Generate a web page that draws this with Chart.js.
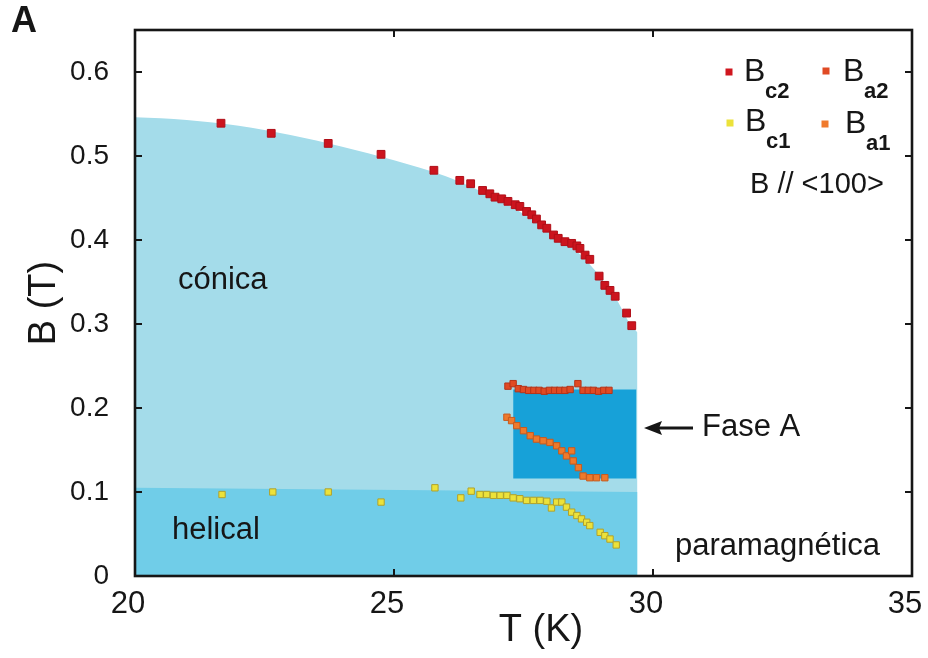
<!DOCTYPE html>
<html>
<head>
<meta charset="utf-8">
<script src="https://cdn.jsdelivr.net/npm/chart.js@4/dist/chart.umd.min.js"></script>
<style>
  html, body { margin: 0; padding: 0; background: #fff; }
</style>
</head>
<body>
<canvas id="c" width="928" height="658"></canvas>
<script>
// Axis ticks
const xTicks = [20, 25, 30, 35];
const yTicks = [0, 0.1, 0.2, 0.3, 0.4, 0.5, 0.6];

// Upper critical field Bc2 (T in K, B in T)
const bc2T = [21.66, 22.63, 23.73, 24.75, 25.77, 26.27, 26.48, 26.71, 26.85, 26.95, 27.08, 27.20, 27.34, 27.43, 27.56, 27.66, 27.75, 27.85, 27.95, 28.08, 28.17, 28.30, 28.43, 28.53, 28.59, 28.69, 28.78, 28.96, 29.07, 29.17, 29.27, 29.49, 29.59];
const bc2B = [0.539, 0.527, 0.515, 0.502, 0.483, 0.471, 0.467, 0.459, 0.455, 0.451, 0.449, 0.446, 0.442, 0.440, 0.434, 0.430, 0.425, 0.418, 0.414, 0.406, 0.402, 0.398, 0.396, 0.393, 0.390, 0.382, 0.377, 0.357, 0.346, 0.340, 0.333, 0.313, 0.298];

// A-phase upper boundary Ba2
const ba2T = [27.20, 27.30, 27.40, 27.50, 27.60, 27.70, 27.80, 27.90, 28.00, 28.10, 28.20, 28.30, 28.40, 28.55, 28.65, 28.75, 28.85, 28.95, 29.05, 29.15];
const ba2B = [0.226, 0.229, 0.223, 0.222, 0.221, 0.221, 0.221, 0.220, 0.221, 0.221, 0.221, 0.221, 0.222, 0.229, 0.221, 0.221, 0.221, 0.220, 0.221, 0.221];

// A-phase lower boundary Ba1
const ba1T = [27.18, 27.27, 27.37, 27.50, 27.63, 27.75, 27.88, 28.01, 28.14, 28.24, 28.33, 28.43, 28.46, 28.56, 28.65, 28.78, 28.91, 29.07];
const ba1B = [0.189, 0.185, 0.179, 0.173, 0.167, 0.163, 0.161, 0.159, 0.155, 0.149, 0.143, 0.149, 0.137, 0.129, 0.119, 0.117, 0.117, 0.117];

// Helical-to-conical field Bc1
const bc1T = [21.68, 22.66, 23.73, 24.75, 25.79, 26.29, 26.49, 26.66, 26.79, 26.92, 27.05, 27.18, 27.30, 27.43, 27.56, 27.69, 27.82, 27.95, 28.04, 28.14, 28.24, 28.33, 28.43, 28.53, 28.62, 28.72, 28.78, 28.98, 29.07, 29.17, 29.29];
const bc1B = [0.097, 0.100, 0.100, 0.088, 0.105, 0.093, 0.101, 0.097, 0.097, 0.096, 0.096, 0.096, 0.093, 0.092, 0.090, 0.090, 0.090, 0.089, 0.081, 0.088, 0.088, 0.082, 0.076, 0.072, 0.068, 0.064, 0.060, 0.052, 0.048, 0.044, 0.037];

// Phase regions (shaded areas)
const conicalT = [20, 21, 22, 23, 24, 25, 26, 26.5, 27, 27.5, 28, 28.5, 29, 29.3, 29.55, 29.7];
const conicalB = [0.546, 0.543, 0.536, 0.525, 0.511, 0.495, 0.476, 0.463, 0.448, 0.431, 0.409, 0.388, 0.355, 0.329, 0.301, 0.290];
const helicalT = [20, 29.7];
const helicalB = [0.105, 0.100];
const phaseAT = [27.3, 29.68];
const phaseATop = 0.222;
const phaseABottom = 0.116;

const pts = (xs, ys) => xs.map((x, i) => ({ x: x, y: ys[i] }));

const FONT = '"Liberation Sans", Arial, Helvetica, sans-serif';
const INK = '#161616';

// Frame, inward ticks, legend, x-axis title and region labels
const decor = {
  id: 'decor',
  afterDraw(chart) {
    const ctx = chart.ctx;
    const a = chart.chartArea;
    const xs = chart.scales.x, ys = chart.scales.y;
    ctx.save();
    ctx.strokeStyle = INK;
    ctx.lineWidth = 2;
    ctx.beginPath();
    xTicks.forEach(v => {
      const px = xs.getPixelForValue(v);
      ctx.moveTo(px, a.bottom); ctx.lineTo(px, a.bottom - 7);
      ctx.moveTo(px, a.top); ctx.lineTo(px, a.top + 7);
    });
    yTicks.forEach(v => {
      const py = ys.getPixelForValue(v);
      ctx.moveTo(a.left, py); ctx.lineTo(a.left + 7, py);
      ctx.moveTo(a.right, py); ctx.lineTo(a.right - 7, py);
    });
    ctx.stroke();
    ctx.lineWidth = 2.6;
    ctx.strokeRect(a.left, a.top, a.right - a.left, a.bottom - a.top);

    // legend
    const entries = [
      { mx: 729, my: 72, fill: '#d0161e', bx: 744, by: 72, sub: 'c2' },
      { mx: 826, my: 71, fill: '#e04a24', bx: 843, by: 72, sub: 'a2' },
      { mx: 730, my: 123, fill: '#ece23a', bx: 745, by: 122, sub: 'c1' },
      { mx: 825, my: 124, fill: '#f07a2c', bx: 845, by: 124, sub: 'a1' }
    ];
    ctx.textAlign = 'left';
    ctx.textBaseline = 'middle';
    entries.forEach(e => {
      ctx.fillStyle = e.fill;
      ctx.fillRect(e.mx - 3.5, e.my - 3.5, 7, 7);
      ctx.fillStyle = INK;
      ctx.font = '32px ' + FONT;
      ctx.fillText('B', e.bx, e.by);
      ctx.font = 'bold 22px ' + FONT;
      ctx.fillText(e.sub, e.bx + 21, e.by + 20);
    });
    ctx.font = '29px ' + FONT;
    ctx.fillText('B // <100>', 750, 185);

    // region labels
    ctx.font = '31px ' + FONT;
    ctx.fillText('cónica', 178, 280);
    ctx.fillText('helical', 172, 530);
    ctx.fillText('paramagnética', 675, 546);
    ctx.fillText('Fase A', 702, 427);

    // arrow pointing at the A phase
    ctx.lineWidth = 3;
    ctx.beginPath();
    ctx.moveTo(693, 428); ctx.lineTo(656, 428);
    ctx.stroke();
    ctx.fillStyle = INK;
    ctx.beginPath();
    ctx.moveTo(644, 428); ctx.lineTo(662, 421); ctx.lineTo(659, 428); ctx.lineTo(662, 435);
    ctx.closePath();
    ctx.fill();

    // x-axis title
    ctx.textAlign = 'center';
    ctx.font = '38px ' + FONT;
    ctx.fillText('T (K)', 541, 631);

    // panel letter
    ctx.textAlign = 'left';
    ctx.font = 'bold 36px ' + FONT;
    ctx.fillText('A', 11, 22);
    ctx.restore();
  }
};

const region = (data, color, fill, order, smooth) => ({
  data: data, showLine: true, fill: fill, backgroundColor: color,
  borderWidth: 0, borderColor: color, pointRadius: 0,
  cubicInterpolationMode: smooth ? 'monotone' : 'default', tension: 0, order: order
});
const marks = (data, fill, border, r) => ({
  data: data, showLine: false, pointStyle: 'rect', pointRadius: r,
  backgroundColor: fill, borderColor: border, borderWidth: 1, order: 0
});

new Chart(document.getElementById('c'), {
  type: 'scatter',
  data: {
    datasets: [
      region(pts(conicalT, conicalB), '#a4dcea', 'origin', 30, true),
      region(pts(helicalT, helicalB), '#70cde8', 'origin', 20, false),
      region(pts(phaseAT, [phaseATop, phaseATop]), '#17a1d8', { value: phaseABottom }, 10, false),
      marks(pts(bc2T, bc2B), '#cc141e', '#b00f18', 5.5),
      marks(pts(ba2T, ba2B), '#e04a24', '#b5341a', 4.5),
      marks(pts(ba1T, ba1B), '#ee7a2c', '#c85a1e', 4.5),
      marks(pts(bc1T, bc1B), '#ece23a', '#b0a22c', 4.5)
    ]
  },
  options: {
    responsive: false,
    animation: false,
    layout: { padding: { top: 30, right: 16, left: 0, bottom: 0 } },
    plugins: { legend: { display: false }, tooltip: { enabled: false } },
    scales: {
      x: {
        type: 'linear', min: 20, max: 35,
        grid: { display: false, drawTicks: false },
        border: { display: false },
        afterBuildTicks: s => { s.ticks = xTicks.map(v => ({ value: v })); },
        afterFit: s => { s.height = 82; s.paddingLeft = 0; s.paddingRight = 0; },
        ticks: { color: INK, padding: 10, labelOffset: -7, font: { family: FONT, size: 31 }, callback: v => String(v) },
        title: { display: false }
      },
      y: {
        type: 'linear', min: 0, max: 0.65,
        grid: { display: false, drawTicks: false },
        border: { display: false },
        afterBuildTicks: s => { s.ticks = yTicks.map(v => ({ value: v })); },
        afterFit: s => { s.width = 135; s.paddingTop = 0; s.paddingBottom = 0; },
        ticks: { color: INK, padding: 26, font: { family: FONT, size: 28 }, callback: v => v === 0 ? '0' : v.toFixed(1) },
        title: { display: true, text: 'B (T)', color: INK, font: { family: FONT, size: 38 }, padding: { top: 22, bottom: 0 } }
      }
    }
  },
  plugins: [decor]
});
</script>
</body>
</html>
